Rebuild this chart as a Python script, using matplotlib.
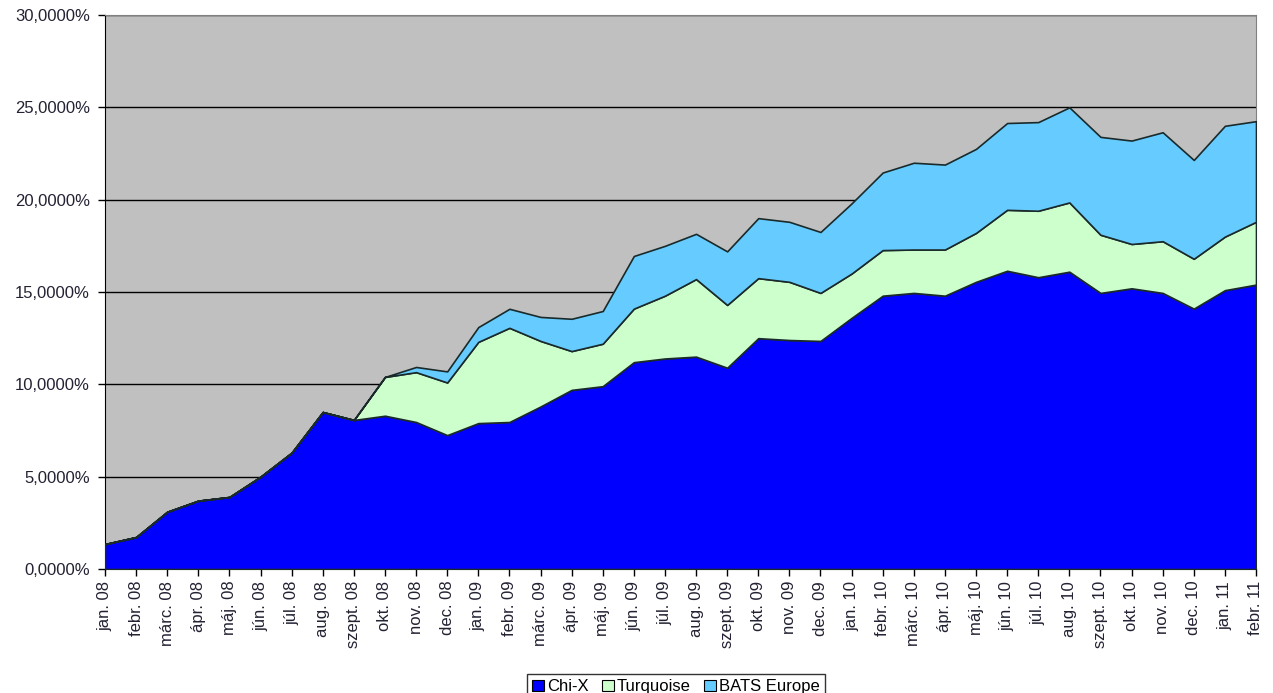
import numpy as np
import matplotlib.pyplot as plt
from matplotlib.patches import Patch
from matplotlib.ticker import FuncFormatter, MultipleLocator

months = ['jan. 08', 'febr. 08', 'márc. 08', 'ápr. 08', 'máj. 08', 'jún. 08', 'júl. 08',
          'aug. 08', 'szept. 08', 'okt. 08', 'nov. 08', 'dec. 08',
          'jan. 09', 'febr. 09', 'márc. 09', 'ápr. 09', 'máj. 09', 'jún. 09', 'júl. 09',
          'aug. 09', 'szept. 09', 'okt. 09', 'nov. 09', 'dec. 09',
          'jan. 10', 'febr. 10', 'márc. 10', 'ápr. 10', 'máj. 10', 'jún. 10', 'júl. 10',
          'aug. 10', 'szept. 10', 'okt. 10', 'nov. 10', 'dec. 10',
          'jan. 11', 'febr. 11']

# market share, %
chix = [1.35, 1.73, 3.1, 3.7, 3.9, 5.0, 6.3, 8.5, 8.07, 8.3, 7.96, 7.25,
        7.9, 7.96, 8.8, 9.7, 9.9, 11.2, 11.4, 11.5, 10.9, 12.5, 12.4, 12.35,
        13.6, 14.8, 14.95, 14.8, 15.55, 16.15, 15.8, 16.1, 14.95, 15.2, 14.95, 14.1,
        15.1, 15.4]
turquoise = [0, 0, 0, 0, 0, 0, 0, 0, 0, 2.1, 2.7, 2.85,
             4.4, 5.1, 3.55, 2.1, 2.3, 2.9, 3.4, 4.2, 3.4, 3.25, 3.15, 2.6,
             2.4, 2.47, 2.35, 2.5, 2.65, 3.3, 3.6, 3.75, 3.15, 2.4, 2.8, 2.7,
             2.9, 3.4]
bats = [0, 0, 0, 0, 0, 0, 0, 0, 0, 0, 0.28, 0.6,
        0.8, 1.03, 1.3, 1.75, 1.77, 2.85, 2.7, 2.45, 2.9, 3.25, 3.25, 3.3,
        3.8, 4.2, 4.7, 4.6, 4.55, 4.7, 4.8, 5.15, 5.3, 5.6, 5.9, 5.35,
        6.0, 5.45]

names = ['Chi-X', 'Turquoise', 'BATS Europe']
colors = ['#0000FF', '#CCFFCC', '#66CCFF']

plt.rcParams['font.family'] = ['Liberation Sans', 'DejaVu Sans']

fig = plt.figure(figsize=(12.73, 6.93), dpi=100)
ax = fig.add_axes([105 / 1273, 1 - 569 / 693, 1151 / 1273, 554 / 693])
ax.set_facecolor('#C0C0C0')

x = np.arange(len(months))
ax.stackplot(x, chix, turquoise, bats, colors=colors,
             edgecolor='#1a2a2a', linewidth=1.2, zorder=3)

ax.set_xlim(0, len(months) - 1)
ax.set_ylim(0, 30)
ax.yaxis.set_major_locator(MultipleLocator(5))
ax.yaxis.set_major_formatter(FuncFormatter(lambda v, p: f'{v:.4f}'.replace('.', ',') + '%'))
ax.grid(axis='y', color='black', linewidth=1.0, zorder=1)
ax.set_axisbelow(True)

ax.set_xticks(x)
ax.set_xticklabels(months, rotation=90)
ax.tick_params(axis='both', direction='out', length=5, width=1, labelsize=12,
               labelcolor='#222233')
ax.tick_params(axis='y', pad=6)

for side in ['top', 'right']:
    ax.spines[side].set_color('#808080')
for side in ['left', 'bottom']:
    ax.spines[side].set_color('black')

handles = [Patch(facecolor=c, edgecolor='black', linewidth=0.8) for c in colors]
leg = fig.legend(handles, names, ncol=3, loc='upper center',
                 bbox_to_anchor=(676 / 1273, 1 - 666 / 693), fontsize=12,
                 handlelength=0.7, handleheight=0.7, handletextpad=0.2,
                 columnspacing=0.8, fancybox=False, frameon=True,
                 borderpad=0.3)
leg.get_frame().set_edgecolor('black')
leg.get_frame().set_linewidth(1.0)

fig.savefig('out.png', dpi=100)
